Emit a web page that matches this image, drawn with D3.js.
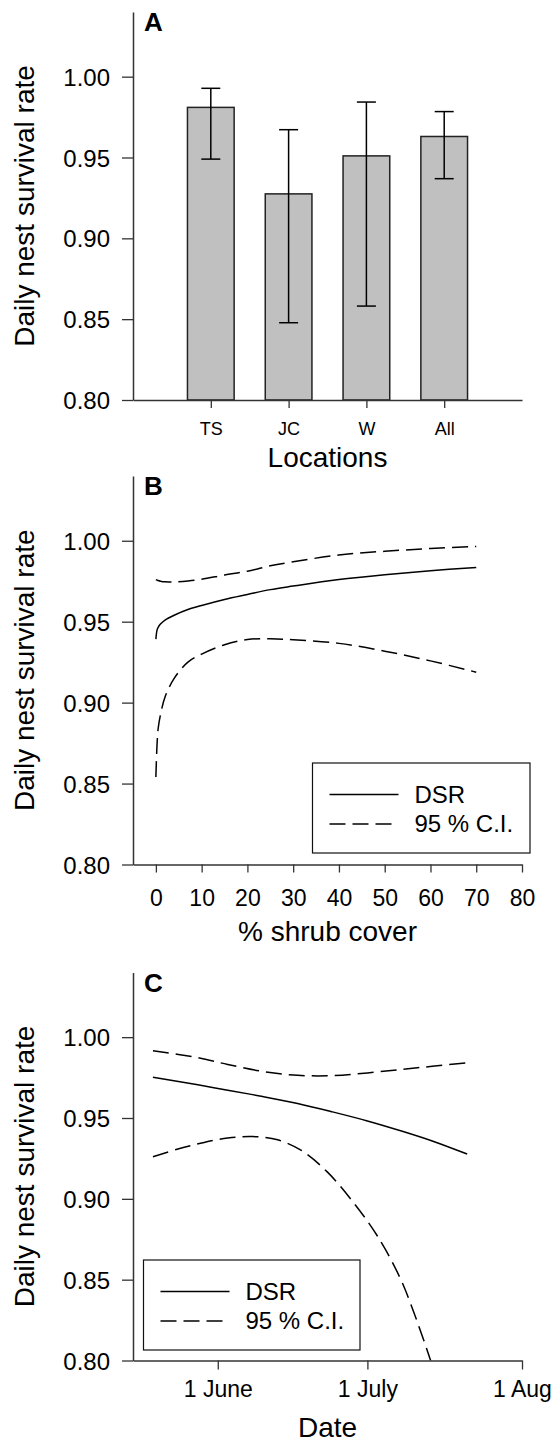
<!DOCTYPE html>
<html>
<head>
<meta charset="utf-8">
<script src="https://cdn.jsdelivr.net/npm/d3@7"></script>
<style>
  body { margin: 0; background: #fff; }
  svg { display: block; font-family: "Liberation Sans", Arial, sans-serif; }
</style>
</head>
<body>
<div id="chart"></div>
<script>
// ---- A: daily nest survival per location (bar + 95% CI) ----
const locations = ["TS", "JC", "W", "All"];
const locationDSR = [0.981, 0.9275, 0.951, 0.963];
const locationUpper = [0.9928, 0.9672, 0.9843, 0.9784];
const locationLower = [0.949, 0.8478, 0.8581, 0.9369];

// ---- B: DSR vs % shrub cover ----
const shrubCover = [0, 0.25, 0.5, 1, 2, 4, 7, 10, 15, 20, 25, 30, 40, 50, 60, 70];
const shrubDSR   = [0.9392, 0.9448, 0.9465, 0.9485, 0.951, 0.954, 0.9575, 0.960, 0.9637, 0.9668, 0.9698, 0.972, 0.976, 0.979, 0.9815, 0.9835];
const shrubUpper = [0.976, 0.9757, 0.9754, 0.975, 0.9746, 0.9746, 0.9752, 0.9762, 0.9788, 0.9812, 0.9845, 0.987, 0.9912, 0.9935, 0.9952, 0.9965];
const shrubLower = [0.854, 0.874, 0.884, 0.8925, 0.9035, 0.915, 0.925, 0.930, 0.9358, 0.939, 0.9394, 0.9388, 0.9366, 0.9318, 0.9258, 0.9188];
const shrubTicks = [0, 10, 20, 30, 40, 50, 60, 70, 80];

// ---- C: DSR vs date ----
const dateDays  = ["2010-05-19", "2010-05-28", "2010-06-03", "2010-06-10", "2010-06-17", "2010-06-24", "2010-07-01", "2010-07-08", "2010-07-14", "2010-07-21"];
const dateDSR   = [0.9752, 0.9705, 0.9672, 0.9633, 0.959, 0.9538, 0.9482, 0.9418, 0.9358, 0.9277];
const dateUpper = [0.9916, 0.9873, 0.9831, 0.9788, 0.9764, 0.9762, 0.9779, 0.9801, 0.982, 0.9842];
const lowerDays = ["2010-05-19", "2010-05-24", "2010-05-29", "2010-06-03", "2010-06-08", "2010-06-13", "2010-06-18", "2010-06-23", "2010-06-28", "2010-07-03", "2010-07-08", "2010-07-14"];
const dateLower = [0.926, 0.9308, 0.9347, 0.9376, 0.9385, 0.9365, 0.9295, 0.9165, 0.8985, 0.877, 0.848, 0.797];
const dateTicks = ["2010-06-01", "2010-07-01", "2010-08-01"];
const dateTickLabels = ["1 June", "1 July", "1 Aug"];

const yTicks = [0.80, 0.85, 0.90, 0.95, 1.00];
const legendLabels = ["DSR", "95 % C.I."];

const W = 560, H = 1444;
const left = 133, right = 522;
const axisColor = "#333";
const dash = "16,7";

const svg = d3.select("#chart").append("svg")
    .attr("width", W)
    .attr("height", H);

svg.append("rect").attr("width", W).attr("height", H).attr("fill", "#fff");

const parseDay = d3.timeParse("%Y-%m-%d");

// y axis + label + panel letter, returns y scale
function drawPanel(top, bottom, letter) {
    const y = d3.scaleLinear().domain([0.8, 1.04]).range([bottom, top]);

    const g = svg.append("g")
        .attr("transform", `translate(${left},0)`)
        .call(d3.axisLeft(y).tickValues(yTicks).tickFormat(d3.format(".2f"))
            .tickSize(11).tickSizeOuter(0).tickPadding(12));
    styleAxis(g);
    g.selectAll("text").attr("font-size", 24).attr("dy", "0.36em");

    svg.append("text")
        .attr("transform", `translate(34,${(top + bottom) / 2}) rotate(-90)`)
        .attr("text-anchor", "middle")
        .attr("font-size", 28)
        .attr("fill", "#000")
        .text("Daily nest survival rate");

    svg.append("text")
        .attr("x", 144)
        .attr("y", top + 19)
        .attr("font-size", 26)
        .attr("font-weight", "bold")
        .attr("fill", "#000")
        .text(letter);

    return y;
}

function styleAxis(g) {
    g.select(".domain").attr("stroke", axisColor).attr("stroke-width", 1.5);
    g.selectAll(".tick line").attr("stroke", axisColor).attr("stroke-width", 1.3);
    g.selectAll("text").attr("fill", "#000");
    g.attr("font-family", null);
}

function xTitle(text, baseline) {
    svg.append("text")
        .attr("x", (left + right) / 2)
        .attr("y", baseline)
        .attr("text-anchor", "middle")
        .attr("font-size", 28)
        .attr("fill", "#000")
        .text(text);
}

function drawLegend(x0, y0, w, h) {
    const lg = svg.append("g").attr("transform", `translate(${x0},${y0})`);
    lg.append("rect")
        .attr("width", w).attr("height", h)
        .attr("fill", "#fff")
        .attr("stroke", "#111")
        .attr("stroke-width", 1.2);
    legendLabels.forEach((lab, i) => {
        const yy = 31.5 + i * 29.5;
        lg.append("line")
            .attr("x1", 17).attr("x2", 86)
            .attr("y1", yy).attr("y2", yy)
            .attr("stroke", "#000")
            .attr("stroke-width", 1.5)
            .attr("stroke-dasharray", i === 0 ? null : dash);
        lg.append("text")
            .attr("x", 102)
            .attr("y", yy + 8.3)
            .attr("font-size", 24)
            .attr("fill", "#000")
            .text(lab);
    });
}

// ================= A =================
(function () {
    const top = 12, bottom = 400;
    const y = drawPanel(top, bottom, "A");
    const x = d3.scaleLinear().domain([0, 5]).range([left, right]);
    const bars = locations.map((name, i) => ({
        name: name, pos: i + 1,
        v: locationDSR[i], hi: locationUpper[i], lo: locationLower[i]
    }));

    svg.append("g").selectAll("rect")
        .data(bars)
        .enter()
        .append("rect")
        .attr("x", d => x(d.pos - 0.3))
        .attr("width", d => x(d.pos + 0.3) - x(d.pos - 0.3))
        .attr("y", d => y(d.v))
        .attr("height", d => y(0.8) - y(d.v))
        .attr("fill", "#c0c0c0")
        .attr("stroke", "#222")
        .attr("stroke-width", 1.5);

    // error bars with caps
    const err = svg.append("g").attr("stroke", "#000").attr("stroke-width", 1.5);
    bars.forEach(d => {
        const cx = x(d.pos);
        err.append("line").attr("x1", cx).attr("x2", cx).attr("y1", y(d.hi)).attr("y2", y(d.lo));
        err.append("line").attr("x1", cx - 9.5).attr("x2", cx + 9.5).attr("y1", y(d.hi)).attr("y2", y(d.hi));
        err.append("line").attr("x1", cx - 9.5).attr("x2", cx + 9.5).attr("y1", y(d.lo)).attr("y2", y(d.lo));
    });

    const gx = svg.append("g")
        .attr("transform", `translate(0,${bottom})`)
        .call(d3.axisBottom(x).tickValues([1, 2, 3, 4])
            .tickFormat(d => locations[d - 1]).tickSize(8).tickSizeOuter(0));
    styleAxis(gx);
    gx.selectAll("text").attr("font-size", 18).attr("y", 35).attr("dy", 0);

    xTitle("Locations", 467);
})();

// ================= B =================
(function () {
    const top = 476, bottom = 864.5;
    const y = drawPanel(top, bottom, "B");
    const x = d3.scaleLinear().domain([-5, 80]).range([left, right]);

    const line = d3.line()
        .x(d => x(d[0]))
        .y(d => y(d[1]))
        .curve(d3.curveCatmullRom.alpha(0.5));

    const series = [
        { vals: shrubDSR, dashed: false },
        { vals: shrubUpper, dashed: true },
        { vals: shrubLower, dashed: true }
    ];
    series.forEach(s => {
        svg.append("path")
            .attr("d", line(shrubCover.map((c, i) => [c, s.vals[i]])))
            .attr("fill", "none")
            .attr("stroke", "#000")
            .attr("stroke-width", 1.5)
            .attr("stroke-dasharray", s.dashed ? dash : null);
    });

    const gx = svg.append("g")
        .attr("transform", `translate(0,${bottom})`)
        .call(d3.axisBottom(x).tickValues(shrubTicks).tickSize(8).tickSizeOuter(0));
    styleAxis(gx);
    gx.selectAll("text").attr("font-size", 23).attr("y", 41).attr("dy", 0);

    xTitle("% shrub cover", 941);
    drawLegend(312.5, 763, 217.5, 90);
})();

// ================= C =================
(function () {
    const top = 972.5, bottom = 1360.5;
    const y = drawPanel(top, bottom, "C");
    const x = d3.scaleTime()
        .domain([parseDay("2010-05-15"), parseDay("2010-08-01")])
        .range([left, right]);

    svg.append("clipPath").attr("id", "clipC")
        .append("rect")
        .attr("x", left).attr("y", top)
        .attr("width", right - left).attr("height", bottom - top);

    const line = d3.line()
        .x(d => x(d[0]))
        .y(d => y(d[1]))
        .curve(d3.curveCatmullRom.alpha(0.5));

    const series = [
        { days: dateDays, vals: dateDSR, dashed: false },
        { days: dateDays, vals: dateUpper, dashed: true },
        { days: lowerDays, vals: dateLower, dashed: true }
    ];
    series.forEach(s => {
        svg.append("path")
            .attr("clip-path", "url(#clipC)")
            .attr("d", line(s.days.map((d, i) => [parseDay(d), s.vals[i]])))
            .attr("fill", "none")
            .attr("stroke", "#000")
            .attr("stroke-width", 1.5)
            .attr("stroke-dasharray", s.dashed ? dash : null);
    });

    const gx = svg.append("g")
        .attr("transform", `translate(0,${bottom})`)
        .call(d3.axisBottom(x).tickValues(dateTicks.map(parseDay))
            .tickFormat((d, i) => dateTickLabels[i]).tickSize(9).tickSizeOuter(0));
    styleAxis(gx);
    gx.selectAll("text").attr("font-size", 23).attr("y", 36).attr("dy", 0);

    xTitle("Date", 1437);
    drawLegend(143.5, 1260, 216.5, 90);
})();
</script>
</body>
</html>
